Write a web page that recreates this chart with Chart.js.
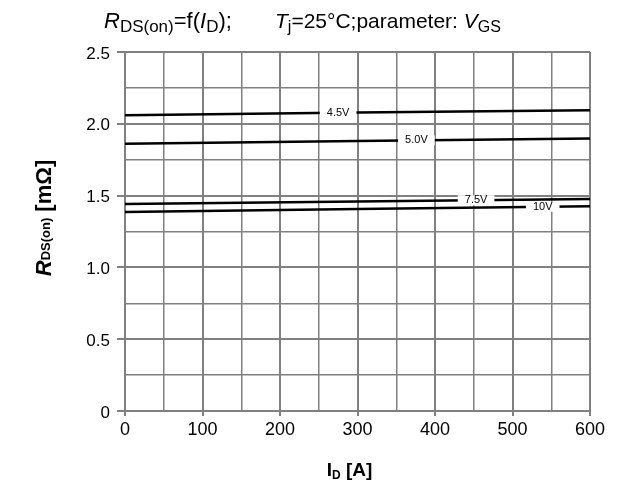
<!DOCTYPE html>
<html>
<head>
<meta charset="utf-8">
<script src="https://cdn.jsdelivr.net/npm/chart.js@4/dist/chart.umd.min.js"></script>
<style>
  body { margin: 0; background: #fff; }
  #box { width: 618px; height: 484px; }
</style>
</head>
<body>
<div id="box"><canvas id="myChart" width="618" height="484"></canvas></div>
<script>
// dados
const current = [0, 300, 600]
const r45 = [2.06, 2.078, 2.095]
const r50 = [1.861, 1.88, 1.898]
const r75 = [1.442, 1.459, 1.476]
const r10 = [1.386, 1.406, 1.426]
const gateLabels = ['4.5V', '5.0V', '7.5V', '10V']
const labelAt = [275, 376, 453, 539]
const xTicks = [0, 100, 200, 300, 400, 500, 600]
const yTicks = [0, 0.5, 1.0, 1.5, 2.0, 2.5]

const FONT = 'Liberation Sans, Arial, sans-serif'
const GRID = '#808080'

function toPoints(ys) {
  return current.map((x, i) => ({ x: x, y: ys[i] }))
}

function isMajorX(v) {
  return xTicks.includes(Math.round(v))
}
function isMajorY(v) {
  return yTicks.some(t => Math.abs(t - v) < 1e-6)
}

// escreve texto com partes em fontes diferentes
function drawParts(ctx, parts, x, y) {
  let cx = x
  parts.forEach(p => {
    ctx.font = p.f
    ctx.fillText(p.t, cx, y + (p.dy || 0))
    cx += ctx.measureText(p.t).width
  })
  return cx
}
function partsWidth(ctx, parts) {
  let w = 0
  parts.forEach(p => {
    ctx.font = p.f
    w += ctx.measureText(p.t).width
  })
  return w
}

const textPlugin = {
  id: 'textPlugin',
  afterDraw(chart) {
    const ctx = chart.ctx
    ctx.save()
    ctx.fillStyle = '#000'
    ctx.textBaseline = 'alphabetic'
    ctx.textAlign = 'left'

    // titulo
    const big = '21px ' + FONT
    const bigI = 'italic 21px ' + FONT
    const sub = '16px ' + FONT
    drawParts(ctx, [
      { t: 'R', f: 'italic 22px ' + FONT },
      { t: 'DS(on)', f: '17px ' + FONT, dy: 4 },
      { t: '=f(', f: '22px ' + FONT },
      { t: 'I', f: 'italic 22px ' + FONT },
      { t: 'D', f: '17px ' + FONT, dy: 4 },
      { t: ');', f: '22px ' + FONT }
    ], 104, 28)
    drawParts(ctx, [
      { t: 'T', f: bigI },
      { t: 'j', f: sub, dy: 4 },
      { t: '=25°C;parameter: ', f: big },
      { t: 'V', f: bigI },
      { t: 'GS', f: sub, dy: 4 }
    ], 275, 28)

    // titulo eixo x
    const xt = [
      { t: 'I', f: 'bold 19px ' + FONT },
      { t: 'D', f: 'bold 12px ' + FONT, dy: 3 },
      { t: ' [A]', f: 'bold 19px ' + FONT }
    ]
    const xa = chart.chartArea
    drawParts(ctx, xt, (xa.left + xa.right) / 2 - partsWidth(ctx, xt) / 2 - 8, 476)

    // titulo eixo y
    const yt = [
      { t: 'R', f: 'bold italic 22px ' + FONT },
      { t: 'DS(on)', f: 'bold 13px ' + FONT, dy: -1 },
      { t: ' [mΩ]', f: 'bold 22px ' + FONT }
    ]
    ctx.translate(51, 218)
    ctx.rotate(-Math.PI / 2)
    drawParts(ctx, yt, -partsWidth(ctx, yt) / 2, 0)
    ctx.restore()
  },
  afterDatasetsDraw(chart) {
    // rótulos das curvas
    const ctx = chart.ctx
    const xs = chart.scales.x
    const ys = chart.scales.y
    ctx.save()
    ctx.font = '11px ' + FONT
    ctx.textAlign = 'center'
    ctx.textBaseline = 'middle'
    chart.data.datasets.forEach((ds, i) => {
      const pts = ds.data
      const v = labelAt[i]
      let y = pts[0].y
      for (let k = 0; k < pts.length - 1; k++) {
        if (v >= pts[k].x && v <= pts[k + 1].x) {
          const t = (v - pts[k].x) / (pts[k + 1].x - pts[k].x)
          y = pts[k].y + t * (pts[k + 1].y - pts[k].y)
        }
      }
      const px = xs.getPixelForValue(v)
      const py = ys.getPixelForValue(y)
      const w = ctx.measureText(ds.label).width + 14
      ctx.fillStyle = '#fff'
      ctx.fillRect(px - w / 2, py - 5, w, 10)
      ctx.fillStyle = '#000'
      ctx.fillText(ds.label, px, py)
    })
    ctx.restore()
  }
}

const datasets = [r45, r50, r75, r10].map((ys, i) => ({
  label: gateLabels[i],
  data: toPoints(ys),
  borderColor: '#000',
  borderWidth: 2.5,
  pointRadius: 0,
  fill: false,
  tension: 0
}))

new Chart(document.getElementById('myChart').getContext('2d'), {
  type: 'line',
  data: { datasets: datasets },
  plugins: [textPlugin],
  options: {
    responsive: false,
    animation: false,
    devicePixelRatio: 1,
    layout: { padding: { top: 52, right: 28, bottom: 0, left: 0 } },
    plugins: { legend: { display: false }, tooltip: { enabled: false } },
    scales: {
      x: {
        type: 'linear',
        min: 0,
        max: 600,
        afterFit: s => { s.height = 73 },
        ticks: {
          stepSize: 50,
          autoSkip: false,
          maxRotation: 0,
          padding: 3,
          color: '#000',
          font: { family: FONT, size: 18 },
          callback: v => (isMajorX(v) ? String(v) : '')
        },
        grid: {
          color: GRID,
          lineWidth: c => (isMajorX(c.tick.value) ? 2 : 1.5),
          tickLength: 5,
          tickWidth: 2,
          tickColor: c => (isMajorX(c.tick.value) ? GRID : 'rgba(0,0,0,0)')
        },
        border: { color: GRID, width: 2 }
      },
      y: {
        min: 0,
        max: 2.5,
        afterFit: s => { s.width = 125 },
        ticks: {
          stepSize: 0.25,
          autoSkip: false,
          padding: 7,
          labelOffset: 2,
          color: '#000',
          font: { family: FONT, size: 17 },
          callback: v => (isMajorY(v) ? (v === 0 ? '0' : v.toFixed(1)) : '')
        },
        grid: {
          color: GRID,
          lineWidth: c => (isMajorY(c.tick.value) ? 2 : 1.5),
          tickLength: 8,
          tickWidth: 2,
          tickColor: c => (isMajorY(c.tick.value) ? GRID : 'rgba(0,0,0,0)')
        },
        border: { color: GRID, width: 2 }
      }
    }
  }
})
</script>
</body>
</html>
